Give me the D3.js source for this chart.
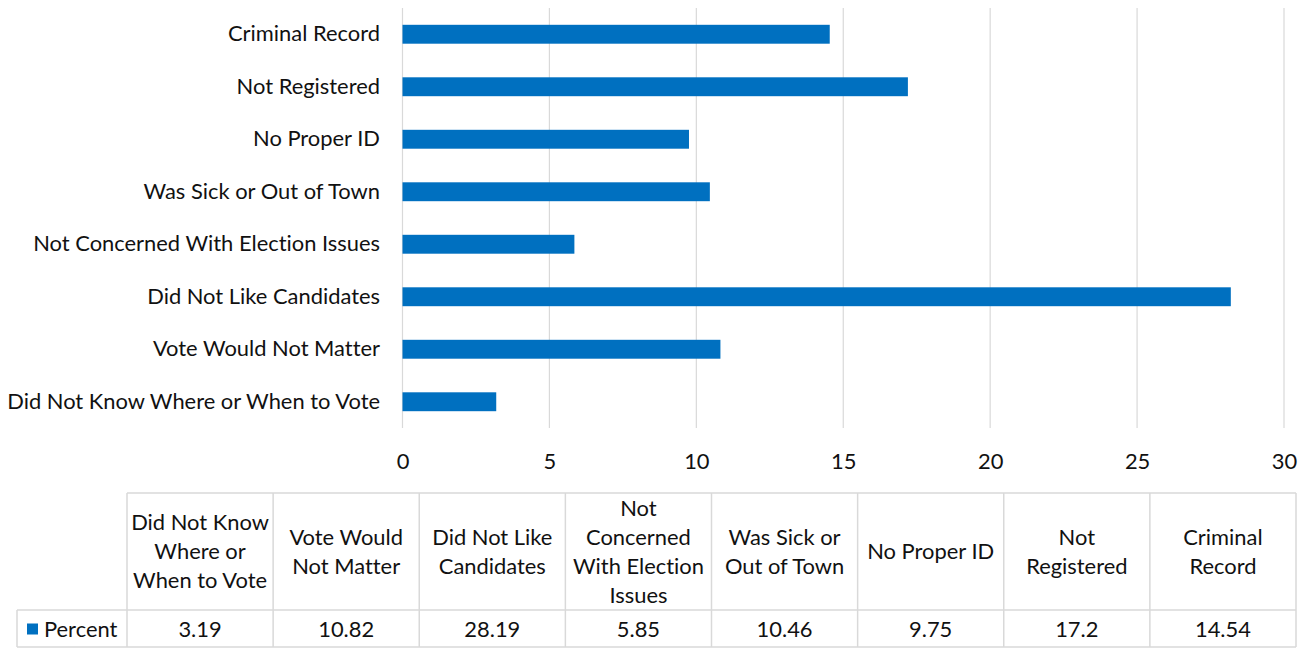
<!DOCTYPE html>
<html>
<head>
<meta charset="utf-8">
<script src="https://cdn.jsdelivr.net/npm/d3@7"></script>
<style>
  html, body { margin: 0; padding: 0; background: #fff; }
  svg { display: block; }
  text { font-family: Lato, "Open Sans", sans-serif; fill: #111; font-variant-ligatures: none; font-feature-settings: "liga" 0; }
</style>
</head>
<body>
<svg id="chart" width="1311" height="648"></svg>
<script>
// Reasons for not voting, percent of respondents (table order, bottom bar first)
const categories = [
  "Did Not Know Where or When to Vote",
  "Vote Would Not Matter",
  "Did Not Like Candidates",
  "Not Concerned With Election Issues",
  "Was Sick or Out of Town",
  "No Proper ID",
  "Not Registered",
  "Criminal Record"
];
const percent = [3.19, 10.82, 28.19, 5.85, 10.46, 9.75, 17.2, 14.54];
const valueLabels = ["3.19", "10.82", "28.19", "5.85", "10.46", "9.75", "17.2", "14.54"];
const headerLines = [
  ["Did Not Know", "Where or", "When to Vote"],
  ["Vote Would", "Not Matter"],
  ["Did Not Like", "Candidates"],
  ["Not", "Concerned", "With Election", "Issues"],
  ["Was Sick or", "Out of Town"],
  ["No Proper ID"],
  ["Not", "Registered"],
  ["Criminal", "Record"]
];
const xTicks = [0, 5, 10, 15, 20, 25, 30];
const seriesName = "Percent";

const BAR = "#0070c0";
const GRID = "#d9d9d9";
const INK = "#111";

const svg = d3.select("#chart");

// Size the text so the longest category label spans its slot
const probe = svg.append("text").attr("font-size", 20).text(categories[0]);
const fs = Math.round(20 * 373 / probe.node().getComputedTextLength() * 10) / 10;
probe.remove();

const rows = categories.map((c, i) => ({ c, v: percent[i] }));

const x = d3.scaleLinear().domain([0, 30]).range([402.5, 1284]);
const y = d3.scaleBand()
  .domain(categories.slice().reverse())
  .range([8, 428])
  .paddingInner(0.64)
  .paddingOuter(0.32);

// vertical gridlines
svg.append("g")
  .selectAll("line")
  .data(xTicks)
  .join("line")
  .attr("x1", d => x(d)).attr("x2", d => x(d))
  .attr("y1", 8).attr("y2", 428)
  .attr("stroke", GRID).attr("stroke-width", 1.2);

// bars
svg.append("g")
  .selectAll("rect")
  .data(rows)
  .join("rect")
  .attr("x", x(0))
  .attr("y", d => y(d.c))
  .attr("width", d => x(d.v) - x(0))
  .attr("height", y.bandwidth())
  .attr("fill", BAR);

// x axis labels
const xAxis = svg.append("g")
  .attr("transform", "translate(0,461)")
  .call(d3.axisBottom(x).tickValues(xTicks).tickSize(0).tickPadding(0));
xAxis.select(".domain").remove();
xAxis.selectAll("text")
  .attr("dy", "0.35em")
  .attr("font-size", fs)
  .attr("font-family", "Lato, 'Open Sans', sans-serif")
  .attr("fill", INK);

// category labels
const yAxis = svg.append("g")
  .attr("transform", "translate(380,0)")
  .call(d3.axisLeft(y).tickSize(0).tickPadding(0));
yAxis.select(".domain").remove();
yAxis.selectAll("text")
  .attr("font-size", fs)
  .attr("font-family", "Lato, 'Open Sans', sans-serif")
  .attr("fill", INK);

// data table
const col = d3.scaleBand().domain(categories).range([127, 1296]);
const tTop = 493, tMid = 610, tBot = 647, legL = 17;
const lineH = 29;
const table = svg.append("g");

// borders
const border = (x1, y1, x2, y2) => table.append("line")
  .attr("x1", x1).attr("y1", y1).attr("x2", x2).attr("y2", y2)
  .attr("stroke", GRID).attr("stroke-width", 1.5);
border(127, tTop, 1296, tTop);
border(legL, tMid, 1296, tMid);
border(legL, tBot, 1296, tBot);
border(legL, tMid, legL, tBot);
categories.forEach(c => border(col(c), tTop, col(c), tBot));
border(1296, tTop, 1296, tBot);

// header cells
const headMid = (tTop + tMid) / 2;
categories.forEach((c, i) => {
  const lines = headerLines[i];
  const t = table.append("text")
    .attr("text-anchor", "middle")
    .attr("font-size", fs);
  lines.forEach((ln, k) => {
    t.append("tspan")
      .attr("x", col(c) + col.bandwidth() / 2)
      .attr("y", headMid + (k - (lines.length - 1) / 2) * lineH)
      .attr("dy", "0.35em")
      .text(ln);
  });
});

// value cells
const valMid = (tMid + tBot) / 2 + 0.5;
table.selectAll("text.val")
  .data(categories)
  .join("text")
  .attr("class", "val")
  .attr("x", d => col(d) + col.bandwidth() / 2)
  .attr("y", valMid)
  .attr("dy", "0.35em")
  .attr("text-anchor", "middle")
  .attr("font-size", fs)
  .text((d, i) => valueLabels[i]);

// legend key
table.append("rect")
  .attr("x", 27).attr("y", valMid - 5.5)
  .attr("width", 11).attr("height", 11)
  .attr("fill", BAR);
table.append("text")
  .attr("x", 44).attr("y", valMid)
  .attr("dy", "0.35em")
  .attr("font-size", fs)
  .text(seriesName);
</script>
</body>
</html>
